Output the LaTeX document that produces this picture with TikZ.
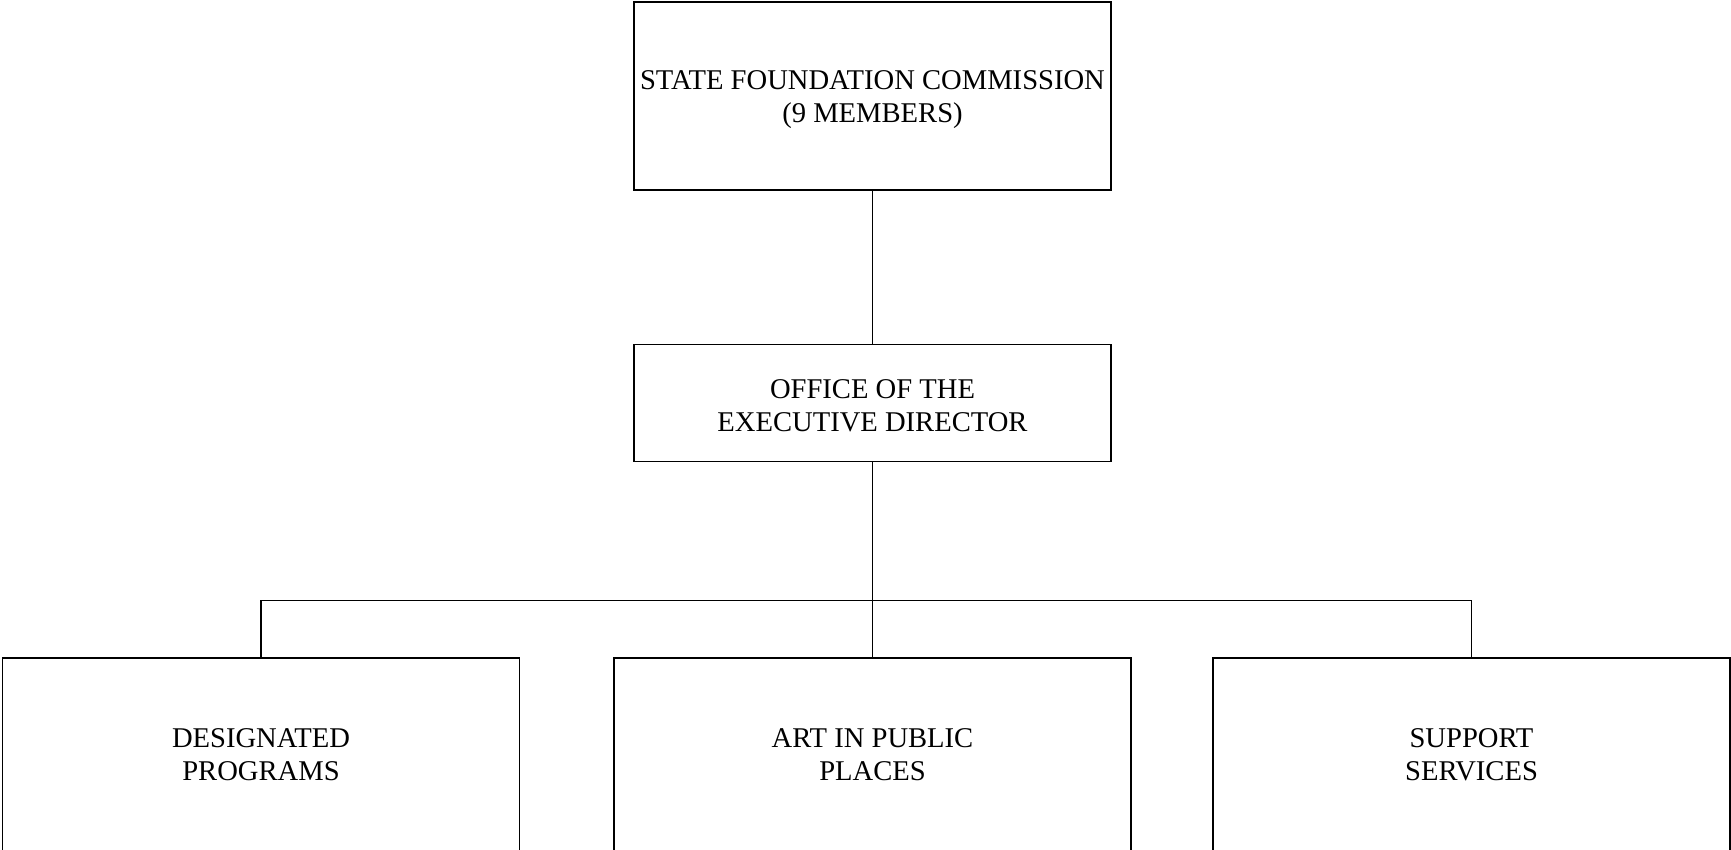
\documentclass[tikz,border=0pt]{standalone}
\usepackage{fontspec}
\setmainfont{Liberation Serif}
\begin{document}
\begin{tikzpicture}[x=1pt,y=1pt,
  box/.style={draw=black,line width=1.6pt,rectangle,inner sep=0pt},
  lbl/.style={inner sep=0pt,align=center,font=\fontsize{28.6}{33}\selectfont},
  conn/.style={draw=black,line width=1.6pt}]
\useasboundingbox (0,0) rectangle (1731,-849);
\node[box,minimum width=477pt,minimum height=188pt] (top) at (872.5,-96) {};
\node[box,minimum width=477pt,minimum height=117pt] (office) at (872.5,-403) {};
\node[box,minimum width=517pt,minimum height=196pt] (desig) at (261,-756) {};
\node[box,minimum width=517pt,minimum height=196pt] (art) at (872.5,-756) {};
\node[box,minimum width=517pt,minimum height=196pt] (support) at (1471.5,-756) {};
\node[lbl] (topT) at ([yshift=-4pt]top.center) {STATE FOUNDATION COMMISSION\\(9 MEMBERS)};
\node[lbl] (officeT) at ([yshift=-3pt]office.center) {OFFICE OF THE\\EXECUTIVE DIRECTOR};
\node[lbl] (desigT) at ([yshift=1pt]desig.center) {DESIGNATED\\PROGRAMS};
\node[lbl] (artT) at ([yshift=1pt]art.center) {ART IN PUBLIC\\PLACES};
\node[lbl] (supportT) at ([yshift=1pt]support.center) {SUPPORT\\SERVICES};
\coordinate (bar) at (872.5,-600.6);
\draw[conn] (top.south) -- (office.north);
\draw[conn] (office.south) -- (art.north);
\draw[conn] (desig.north) -- (desig.north |- bar) -- (support.north |- bar) -- (support.north);
\end{tikzpicture}
\end{document}
